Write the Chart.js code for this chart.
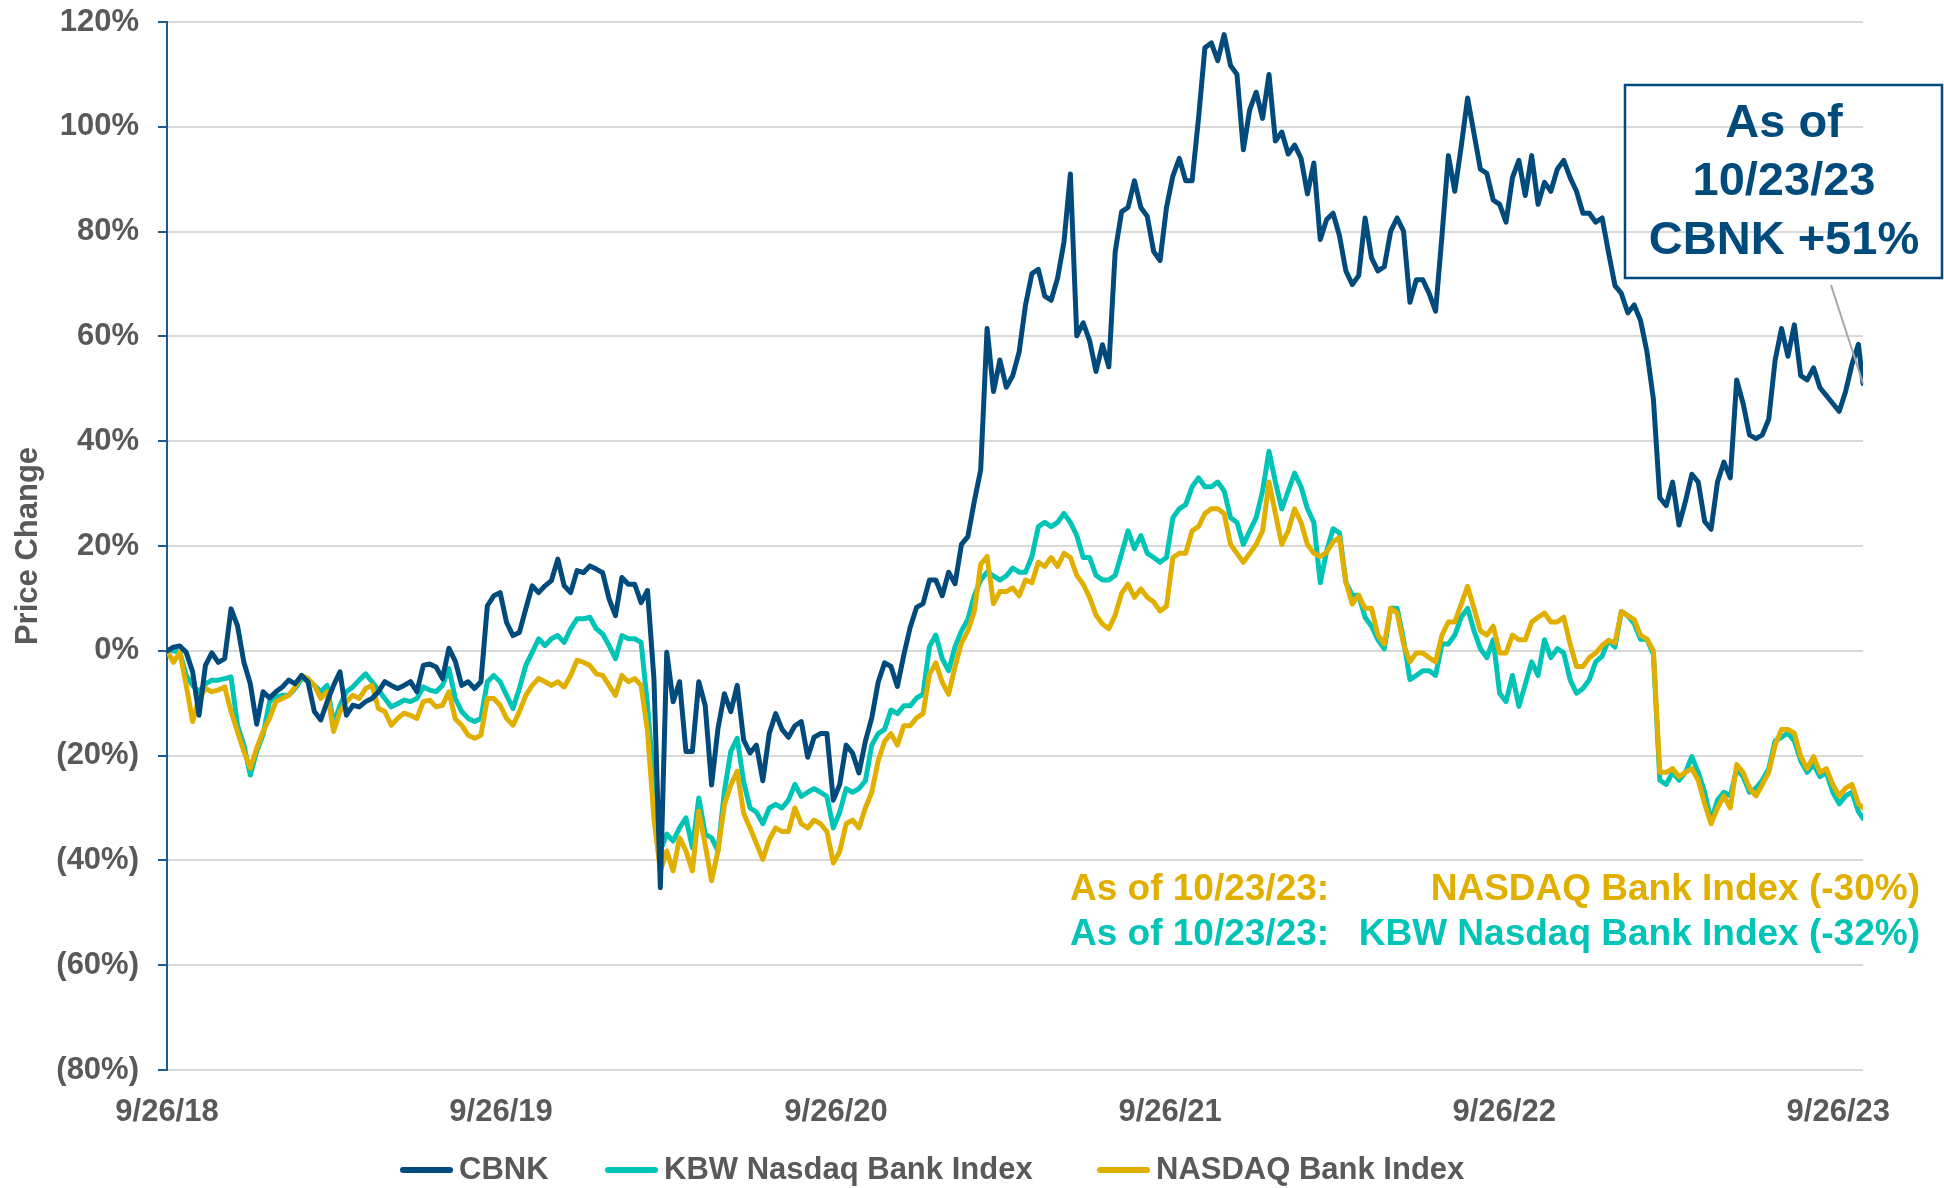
<!DOCTYPE html>
<html>
<head>
<meta charset="utf-8">
<title>CBNK vs bank indices</title>
<script src="https://cdn.jsdelivr.net/npm/chart.js@4.4.0/dist/chart.umd.min.js"></script>
<style>
  html, body { margin: 0; padding: 0; background: #fff; }
  #wrap { width: 1944px; height: 1188px; }
</style>
</head>
<body>
<div id="wrap"><canvas id="perfChart" width="1944" height="1188"></canvas></div>
<script>
// ============================================================
// DATA (weekly closes from 9/26/18, last point 10/23/23)
// ============================================================
const startDate = '2018-09-26';
const lastDate = '2023-10-23';

const xTickDays = [0, 365, 731, 1096, 1461, 1826];
const xTickLabels = ['9/26/18', '9/26/19', '9/26/20', '9/26/21', '9/26/22', '9/26/23'];

const cbnk = [
  0, 0.7, 0.9, -0.3, -4, -12.3, -2.8, -0.4, -2.2, -1.5,
  8, 4.8, -2.2, -6.3, -14, -7.8, -9, -7.8, -6.9, -5.6,
  -6.3, -4.7, -5.9, -11.6, -13.2, -9.7, -6.6, -4, -12.3, -10.4,
  -10.7, -9.7, -9.1, -7.8, -5.9, -6.6, -7.2, -6.6, -5.9, -7.8,
  -2.8, -2.5, -3.1, -5.3, 0.5, -2, -6.6, -5.9, -7.2, -5.9,
  8.6, 10.5, 11.1, 5.4, 2.9, 3.5, 8, 12.4, 11.1, 12.4,
  13.4, 17.5, 12.4, 11.1, 15.3, 14.9, 16.2, 15.6, 14.9, 9.9,
  6.7, 14, 12.7, 12.7, 9.2, 11.5, -5.3, -45.2, -0.3, -9.7,
  -5.9, -19.2, -19.2, -5.9, -10.4, -25.6, -14.8, -8.2, -11.6, -6.6,
  -17, -19.5, -18, -24.8, -15.8, -12, -15, -16.5, -14.3, -13.5,
  -20.3, -16.5, -15.8, -15.8, -28.5, -25.5, -18, -19.5, -23.3, -17.3,
  -12.8, -6, -2.3, -3, -6.8, -0.8, 4.5, 8.3, 9, 13.5,
  13.5, 10.5, 15, 12.8, 20.3, 21.8, 28.5, 34.5, 61.5, 49.5,
  55.5, 50.3, 52.5, 57, 66, 72, 72.8, 67.7, 66.9, 71.1,
  78, 91, 60.1, 62.6, 59.2, 53.3, 58.4, 54.2, 76.2, 83.8,
  84.6, 89.7, 84.6, 82.9, 76.2, 74.5, 84.6, 90.6, 94, 89.7,
  89.7, 101.6, 115.1, 116, 112.6, 117.6, 111.7, 110, 95.6, 103.3,
  106.6, 101.6, 110, 97.3, 99, 94.8, 96.5, 94, 87.2, 93.1,
  78.5, 82.3, 83.5, 79.2, 72.5, 69.9, 71.6, 82.6, 75, 72.5,
  73.3, 80.1, 82.6, 80.1, 66.5, 70.8, 70.8, 68.2, 64.8, 79.2,
  94.5, 87.7, 96.2, 105.5, 98.7, 91.9, 91.1, 86, 85.2, 81.8,
  90.3, 93.6, 86.9, 94.5, 85.2, 89.4, 87.7, 91.9, 93.6, 90.3,
  87.7, 83.5, 83.5, 81.8, 82.6, 76, 69.7, 68.2, 64.5, 66,
  63, 57, 48, 29.2, 27.7, 32.2, 24, 28.5, 33.7, 32.2,
  24.7, 23.2, 32.2, 36, 33, 51.7, 47.2, 41.2, 40.5, 41.2,
  44.2, 55.5, 61.5, 56.2, 62.2, 52.5, 51.7, 54, 50.2, 48.7,
  47.2, 45.7, 49.5, 54.7, 58.5,
  51
];

const kbw = [
  0, 0, -0.3, -4.7, -6.6, -7.8, -6.3, -5.6, -5.6, -5.3,
  -5, -14.2, -18, -23.7, -19.2, -16, -9.7, -8.8, -8.5, -8.5,
  -7.2, -5.3, -5.6, -6.6, -7.8, -6.6, -14, -10.4, -7.8, -6.9,
  -5.6, -4.4, -5.9, -7.5, -9.1, -10.7, -10.1, -9.4, -9.7, -9.1,
  -6.9, -7.5, -7.8, -6.6, -3.4, -9.1, -11.6, -12.9, -13.5, -12.9,
  -5.9, -4.7, -5.9, -8.5, -11, -7.2, -2.8, -0.3, 2.3, 1,
  2.3, 2.9, 1.6, 4.2, 6.1, 6.1, 6.4, 4.2, 3.2, 1,
  -1.5, 2.9, 2.3, 2.3, 1.6, -10.4, -25.6, -38.2, -35, -36.3,
  -33.8, -31.9, -37.6, -28.1, -35, -35.7, -38.2, -26.8, -19.2, -16.7,
  -25, -30, -30.8, -33, -30, -29.3, -30, -28.5, -25.5, -27.8,
  -27, -26.3, -27, -27.8, -33.8, -30.8, -26.3, -27, -26.3, -24.8,
  -18, -15.8, -15, -11.3, -12, -10.5, -10.5, -9, -8.3, 0.8,
  3, -1.5, -3.8, 0.8, 3.8, 6, 10.5, 13.5, 15, 14.3,
  13.5, 14.3, 15.8, 15, 15, 18, 23.7, 24.5, 23.7, 24.5,
  26.2, 24.5, 22, 17.8, 17.8, 14.4, 13.5, 13.5, 14.4, 18.6,
  22.9, 19.5, 22, 18.6, 17.8, 16.9, 17.8, 25.4, 27.1, 27.9,
  31.3, 33, 31.3, 31.3, 32.2, 30.5, 25.4, 24.5, 20.3, 22.9,
  25.4, 30.5, 38.1, 32.2, 27.1, 30.5, 33.9, 31.3, 27.1, 24.5,
  13, 19, 23.3, 22.5, 13.1, 10.6, 10.6, 6.4, 4.7, 2.1,
  0.4, 8.1, 8.1, 2.1, -5.5, -4.7, -3.8, -3.8, -4.7, 1.3,
  1.3, 3, 6.4, 8.1, 3.8, 0.4, -1.3, 2.1, -8.1, -9.7,
  -4.7, -10.6, -6.4, -2.1, -4.7, 2.1, -1.3, 0.4, -0.4, -5.5,
  -8.1, -7.2, -5.5, -2.1, -1, 2, 0.7, 7.5, 6.7, 5.2,
  2.2, 2.2, -0.7, -24.7, -25.5, -23.2, -24.7, -23.2, -20.2, -23.2,
  -27, -32.5, -28.5, -27, -27.7, -22.5, -24, -27, -26.2, -24.7,
  -22.5, -17.2, -16.5, -15.7, -17.2, -21, -23.2, -21.7, -24, -23.2,
  -27, -29.2, -27.7, -27, -30.7,
  -32
];

const nasdaqBank = [
  0, -2.2, -0.3, -6.6, -13.5, -9.1, -7.2, -7.8, -7.5, -6.9,
  -11.6, -15.4, -19.2, -22.4, -18.6, -15.4, -12.9, -9.7, -9.1, -8.5,
  -6.9, -4.7, -5.3, -6.6, -9.1, -7.8, -15.4, -11.6, -9.7, -8.5,
  -9.1, -7.2, -6.6, -11, -11.6, -14.2, -12.9, -11.9, -12.3, -12.9,
  -9.7, -9.4, -10.7, -10.4, -7.8, -13, -14.2, -16.1, -16.7, -16.1,
  -9.1, -9.1, -10.4, -12.9, -14.2, -11.6, -8.5, -6.6, -5.3, -5.9,
  -6.6, -5.9, -6.9, -4.7, -1.8, -2.2, -2.8, -4.4, -4.7, -6.6,
  -8.5, -4.7, -5.9, -5.3, -6.6, -15.4, -31.9, -42, -38.2, -42,
  -35.7, -38.2, -42, -30.6, -37, -43.9, -38.2, -29.4, -25.6, -23,
  -31, -33.8, -36.8, -39.8, -36, -33.8, -34.5, -34.5, -30, -33,
  -33.8, -32.3, -33, -34.5, -40.5, -38.3, -33, -32.3, -33.8, -30,
  -27, -21, -17.3, -15.8, -18, -14.3, -14.3, -12.8, -12, -4.5,
  -2.3, -6, -8.3, -3, 1.5, 3.8, 7.5, 16.5, 18, 9,
  11.3, 11.3, 12, 10.5, 13.5, 13, 16.9, 16.1, 17.8, 16.1,
  18.6, 17.8, 14.4, 12.7, 10.2, 6.8, 5.1, 4.2, 6.8, 11,
  12.7, 10.2, 11.8, 10.2, 9.3, 7.6, 8.5, 17.8, 18.6, 18.6,
  22.9, 23.7, 26.2, 27.1, 27.1, 26.2, 20.3, 18.6, 16.9, 18.6,
  20.3, 22.9, 32.2, 26.2, 20.3, 22.9, 27.1, 24.5, 20.3, 18.6,
  18, 18.8, 20.8, 21.6, 13.1, 8.9, 10.6, 8.1, 8.1, 3,
  1.3, 8.1, 7.2, 1.3, -2.1, -0.4, -0.4, -1.3, -2.1, 3,
  5.5, 5.5, 8.9, 12.3, 8.1, 3.8, 3, 4.7, -0.4, -0.4,
  3, 2.1, 2.1, 5.5, 6.4, 7.2, 5.5, 5.5, 6.4, 1.3,
  -3, -3, -1.3, -0.4, 1, 2, 1.5, 7.5, 6.7, 6,
  3, 2.2, 0, -23.2, -23.2, -22.5, -24, -23.2, -22.5, -24.7,
  -29.2, -33, -30, -27.7, -30, -21.7, -23.2, -26.2, -27.7, -25.5,
  -23.2, -18, -15, -15, -15.7, -20.2, -22.5, -20.2, -23.2, -22.5,
  -25.5, -27.7, -26.2, -25.5, -29.2,
  -30
];

const seriesNames = ['CBNK', 'KBW Nasdaq Bank Index', 'NASDAQ Bank Index'];
const boxLines = ['As of', '10/23/23', 'CBNK +51%'];
const noteNasdaq = ['As of 10/23/23:', 'NASDAQ Bank Index (-30%)'];
const noteKbw = ['As of 10/23/23:', 'KBW Nasdaq Bank Index (-32%)'];

// ============================================================
// STYLE
// ============================================================
const NAVY = '#004A7C';
const TEAL = '#00C4B5';
const GOLD = '#E0AF00';
const GREY_TEXT = '#595959';
const AXIS_BLUE = '#1F5C8E';
const FONT = '"Liberation Sans", Arial, sans-serif';

// legend item starts (swatch left edge), swatch size, row centre
const legendX = [400, 605, 1097];
const legendY = 1170;
const swatchW = 53;
const swatchH = 6;

// x = days since start: one point per week, last point on lastDate
const totalDays = (Date.parse(lastDate) - Date.parse(startDate)) / 86400000;
const days = cbnk.map(function(v, i) {
    return i === cbnk.length - 1 ? totalDays : i * 7;
});

function toPoints(values) {
    return values.map(function(v, i) { return { x: days[i], y: v }; });
}

function pctLabel(v) {
    return v < 0 ? '(' + Math.abs(v) + '%)' : v + '%';
}

// annotation box, leader line, index notes and bottom legend
const notesPlugin = {
    id: 'notes',
    afterDatasetsDraw: function(chart) {
        const ctx = chart.ctx;
        const xs = chart.scales.x;
        const ys = chart.scales.y;
        const last = days.length - 1;
        const px = xs.getPixelForValue(days[last]);
        const py = ys.getPixelForValue(cbnk[last]);

        ctx.save();
        ctx.strokeStyle = '#A6A6A6';
        ctx.lineWidth = 2;
        ctx.beginPath();
        ctx.moveTo(1831, 285);
        ctx.lineTo(px, py);
        ctx.stroke();

        ctx.strokeStyle = NAVY;
        ctx.lineWidth = 2.5;
        ctx.strokeRect(1625, 85, 317, 193);

        ctx.fillStyle = NAVY;
        ctx.font = 'bold 47px ' + FONT;
        ctx.textAlign = 'center';
        ctx.textBaseline = 'middle';
        boxLines.forEach(function(t, i) {
            ctx.fillText(t, 1784, 124 + i * 58.5);
        });

        ctx.font = 'bold 37px ' + FONT;
        [[noteNasdaq, GOLD, 890], [noteKbw, TEAL, 935]].forEach(function(row) {
            ctx.fillStyle = row[1];
            ctx.textAlign = 'left';
            ctx.fillText(row[0][0], 1070, row[2]);
            ctx.textAlign = 'right';
            ctx.fillText(row[0][1], 1920, row[2]);
        });

        // legend: swatch + label for each dataset
        ctx.font = 'bold 31px ' + FONT;
        ctx.textAlign = 'left';
        chart.data.datasets.forEach(function(ds, i) {
            ctx.fillStyle = ds.borderColor;
            ctx.beginPath();
            ctx.roundRect(legendX[i], legendY - swatchH / 2, swatchW, swatchH, swatchH / 2);
            ctx.fill();
            ctx.fillStyle = GREY_TEXT;
            ctx.fillText(ds.label, legendX[i] + swatchW + 6, legendY);
        });
        ctx.restore();
    }
};

// ============================================================
// CHART
// ============================================================
const ctx = document.getElementById('perfChart').getContext('2d');

new Chart(ctx, {
    type: 'line',
    data: {
        datasets: [{
            label: seriesNames[0],
            data: toPoints(cbnk),
            borderColor: NAVY,
            order: 0
        }, {
            label: seriesNames[1],
            data: toPoints(kbw),
            borderColor: TEAL,
            order: 2
        }, {
            label: seriesNames[2],
            data: toPoints(nasdaqBank),
            borderColor: GOLD,
            order: 1
        }]
    },
    options: {
        responsive: false,
        animation: false,
        devicePixelRatio: 1,
        layout: {
            padding: { top: 22, right: 81, bottom: 58, left: 0 }
        },
        elements: {
            line: { borderWidth: 5, tension: 0, borderJoinStyle: 'round', borderCapStyle: 'round' },
            point: { radius: 0, hoverRadius: 0 }
        },
        plugins: {
            tooltip: { enabled: false },
            legend: { display: false }
        },
        scales: {
            x: {
                type: 'linear',
                min: 0,
                max: totalDays,
                grid: { display: false, drawTicks: false },
                border: { display: false },
                afterFit: function(scale) { scale.height = 60; },
                afterBuildTicks: function(scale) {
                    scale.ticks = xTickDays.map(function(d) { return { value: d }; });
                },
                ticks: {
                    autoSkip: false,
                    maxRotation: 0,
                    padding: 24,
                    color: GREY_TEXT,
                    font: { family: FONT, size: 31, weight: 'bold' },
                    callback: function(value) {
                        return xTickLabels[xTickDays.indexOf(value)];
                    }
                }
            },
            y: {
                min: -80,
                max: 120,
                afterFit: function(scale) {
                    scale.width = 167;
                    scale.paddingTop = 0;
                    scale.paddingBottom = 0;
                },
                grid: { color: '#D9D9D9', lineWidth: 2, tickColor: AXIS_BLUE, tickLength: 9 },
                border: { color: AXIS_BLUE, width: 2 },
                ticks: {
                    stepSize: 20,
                    padding: 19,
                    color: GREY_TEXT,
                    font: { family: FONT, size: 31, weight: 'bold' },
                    callback: function(value) { return pctLabel(value); }
                },
                title: {
                    display: true,
                    text: 'Price Change',
                    color: GREY_TEXT,
                    font: { family: FONT, size: 31, weight: 'bold' },
                    padding: { top: 10, bottom: 0 }
                }
            }
        }
    },
    plugins: [notesPlugin]
});
</script>
</body>
</html>
